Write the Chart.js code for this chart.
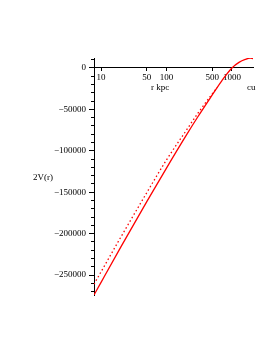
<!DOCTYPE html>
<html>
<head>
<meta charset="utf-8">
<script src="https://cdn.jsdelivr.net/npm/chart.js@4"></script>
<style>
  html, body { margin: 0; padding: 0; background: #fff; }
</style>
</head>
<body>
<canvas id="vchart" width="273" height="353"></canvas>
<script>
var radiusSolid = [7.8, 10, 20, 50, 100, 200, 300, 460, 700, 1000, 1300, 1600, 1900, 2100];
var potentialSolid = [-274000, -258700, -216300, -161400, -120800, -81400, -59200, -36900, -15500, 0, 7000, 10300, 12000, 11200];
var radiusDotted = [7.8, 10, 20, 50, 100, 200, 300, 460, 600];
var potentialDotted = [-261000, -246000, -204300, -150500, -111000, -75500, -55000, -35000, -23400];
var xTicks = [10, 50, 100, 500, 1000];
var yTicks = [-250000, -200000, -150000, -100000, -50000, 0];

Chart.defaults.font.family = "'Liberation Serif', serif";
Chart.defaults.font.size = 9;
Chart.defaults.color = "black";

function pairs(xs, ys) {
  return xs.map(function (x, i) { return { x: x, y: ys[i] }; });
}

var minorTicks = [];
for (var v = -270000; v <= 10000; v += 10000) minorTicks.push({ value: v });

// loose labels, placed like the maple plot
var sideText = {
  id: "sideText",
  afterDraw: function (chart) {
    var ctx = chart.ctx, area = chart.chartArea;
    ctx.save();
    ctx.fillStyle = "black";
    ctx.font = "9px 'Liberation Serif'";
    ctx.textBaseline = "middle";
    ctx.textAlign = "center";
    ctx.fillText("r kpc", 160, 88);
    ctx.fillText("2V(r)", 43, (area.top + area.bottom) / 2 + 1);
    ctx.textAlign = "left";
    ctx.fillText("cu", 247, 88);
    ctx.restore();
  }
};

new Chart(document.getElementById("vchart"), {
  type: "line",
  data: {
    datasets: [
      {
        data: pairs(radiusSolid, potentialSolid),
        borderColor: "rgb(255, 0, 0)",
        borderWidth: 1.3,
        pointRadius: 0,
        cubicInterpolationMode: "monotone"
      },
      {
        data: pairs(radiusDotted, potentialDotted),
        borderColor: "rgb(255, 0, 0)",
        borderWidth: 1.3,
        borderDash: [1.5, 2.5],
        pointRadius: 0,
        cubicInterpolationMode: "monotone"
      }
    ]
  },
  options: {
    responsive: false,
    animation: false,
    layout: { padding: { left: 54, top: 58, right: 20, bottom: 58 } },
    plugins: { legend: { display: false }, tooltip: { enabled: false } },
    scales: {
      x: {
        type: "logarithmic",
        min: 7.8,
        max: 2100,
        position: { y: 0 },
        afterBuildTicks: function (s) { s.ticks = xTicks.map(function (t) { return { value: t }; }); },
        ticks: { autoSkip: false, maxRotation: 0, padding: 1, callback: function (t) { return String(t); } },
        grid: { drawOnChartArea: false, tickLength: 3, color: "black" },
        border: { color: "black" }
      },
      y: {
        min: -274000,
        max: 12000,
        position: "left",
        afterBuildTicks: function (s) { s.ticks = yTicks.map(function (t) { return { value: t }; }); },
        afterFit: function (s) { s.width = 40; },
        ticks: { padding: 3, callback: function (t) { return t === 0 ? "0" : "\u2212" + Math.abs(t); } },
        grid: { drawOnChartArea: false, tickLength: 5, color: "black" },
        border: { color: "black" }
      },
      yMinor: {
        axis: "y",
        min: -274000,
        max: 12000,
        position: { x: 7.8 },
        afterBuildTicks: function (s) { s.ticks = minorTicks; },
        ticks: { display: false },
        grid: { drawOnChartArea: false, tickLength: 3, color: "black" },
        border: { display: false }
      }
    }
  },
  plugins: [sideText]
});
</script>
</body>
</html>
